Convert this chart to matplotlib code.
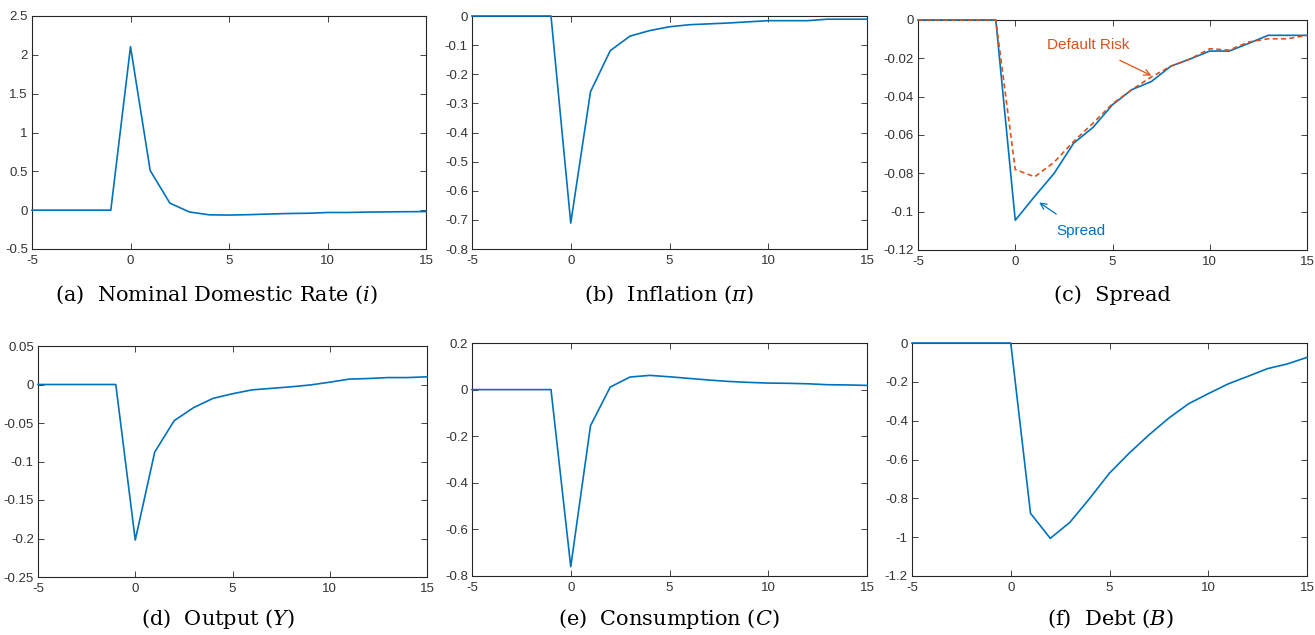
import numpy as np
import matplotlib
matplotlib.use('Agg')
import matplotlib.pyplot as plt
from matplotlib.ticker import FuncFormatter

plt.rcParams['axes.unicode_minus'] = False
plt.rcParams['mathtext.fontset'] = 'dejavuserif'

# horizon
t = list(range(-5, 16))

# impulse responses
nominal_rate = [0, 0, 0, 0, 0, 2.105, 0.51, 0.09, -0.024, -0.06, -0.063, -0.058,
                -0.05, -0.043, -0.04, -0.03, -0.03, -0.025, -0.022, -0.02, -0.018]
inflation = [0, 0, 0, 0, 0, -0.711, -0.26, -0.119, -0.069, -0.05, -0.037, -0.030,
             -0.027, -0.024, -0.020, -0.016, -0.016, -0.016, -0.011, -0.011, -0.011]
spread = [0, 0, 0, 0, 0, -0.1045, -0.092, -0.080, -0.0643, -0.056, -0.0442, -0.0363,
          -0.0321, -0.0241, -0.0203, -0.0162, -0.0162, -0.0122, -0.008, -0.008, -0.008]
default_risk = [0, 0, 0, 0, 0, -0.078, -0.0818, -0.0742, -0.0634, -0.0538, -0.0437,
                -0.0363, -0.0297, -0.0241, -0.0203, -0.015, -0.0157, -0.0115, -0.0098,
                -0.0098, -0.008]
output = [0, 0, 0, 0, 0, -0.202, -0.0878, -0.047, -0.030, -0.018, -0.012, -0.007,
          -0.005, -0.003, -0.0006, 0.003, 0.007, 0.0078, 0.009, 0.009, 0.010]
consumption = [0, 0, 0, 0, 0, -0.76, -0.155, 0.011, 0.054, 0.061, 0.055, 0.048,
               0.041, 0.035, 0.031, 0.028, 0.027, 0.025, 0.021, 0.020, 0.018]
debt = [0, 0, 0, 0, 0, 0, -0.877, -1.006, -0.923, -0.80, -0.67, -0.567, -0.473,
        -0.387, -0.313, -0.261, -0.211, -0.172, -0.132, -0.108, -0.074]

captions = ["(a)  Nominal Domestic Rate ($\\mathit{i}$)", "(b)  Inflation ($\\pi$)",
            "(c)  Spread", "(d)  Output ($\\mathit{Y}$)",
            "(e)  Consumption ($\\mathit{C}$)", "(f)  Debt ($\\mathit{B}$)"]
ylims = [(-0.5, 2.5), (-0.8, 0), (-0.12, 0), (-0.25, 0.05), (-0.8, 0.2), (-1.2, 0)]
yticks = [np.arange(-0.5, 2.51, 0.5), np.arange(-0.8, 0.01, 0.1), np.arange(-0.12, 0.001, 0.02),
          np.arange(-0.25, 0.051, 0.05), np.arange(-0.8, 0.21, 0.2), np.arange(-1.2, 0.01, 0.2)]
series = [nominal_rate, inflation, spread, output, consumption, debt]

blue = '#0072BD'
orange = '#D95319'
dark = '#262626'

W, H = 1315, 635
fig = plt.figure(figsize=(W / 100, H / 100), dpi=100)

# axes boxes in pixels: left, top, right, bottom
boxes = [(32, 16, 426, 249), (472, 16, 867, 249), (918, 20, 1307, 250),
         (38, 346, 427, 577), (472, 343, 867, 576), (912, 343, 1307, 576)]
cap_pos = [(216, 295), (669, 295), (1112, 295), (218, 619), (669, 619), (1110, 619)]


def tick_fmt(v, p):
    if abs(v) < 1e-9:
        return '0'
    return '%g' % round(v, 6)


axes = []
for i, (l, tp, r, b) in enumerate(boxes):
    ax = fig.add_axes([l / W, 1 - b / H, (r - l) / W, (b - tp) / H])
    ax.plot(t, series[i], color=blue, lw=1.2, clip_on=False, zorder=3)
    if i == 2:
        ax.plot(t, default_risk, color=orange, lw=1.2, ls=(0, (3, 2)), clip_on=False, zorder=3)
    ax.set_xlim(-5, 15)
    ax.set_ylim(*ylims[i])
    ax.set_xticks([-5, 0, 5, 10, 15])
    ax.set_yticks(yticks[i])
    ax.yaxis.set_major_formatter(FuncFormatter(tick_fmt))
    ax.tick_params(direction='in', top=True, right=True, length=4, width=0.6,
                   labelsize=9.5, colors=dark, pad=3)
    ax.tick_params(axis='x', pad=4)
    for lab in ax.get_xticklabels() + ax.get_yticklabels():
        lab.set_family('Liberation Sans')
        lab.set_color('#333333')
    for s in ax.spines.values():
        s.set_color(dark)
        s.set_linewidth(0.8)
    fig.text(cap_pos[i][0] / W, 1 - cap_pos[i][1] / H, captions[i], ha='center', va='center',
             fontsize=15, family='DejaVu Serif')
    axes.append(ax)

ax = axes[2]
ax.annotate('Default Risk', xy=(7, -0.029), xytext=(3.76, -0.0131), color=orange,
            fontsize=11, family='Liberation Sans', ha='center', va='center',
            arrowprops=dict(arrowstyle='->', color=orange, lw=0.9, shrinkA=9, shrinkB=0))
ax.annotate('Spread', xy=(1.23, -0.0952), xytext=(3.38, -0.110), color=blue,
            fontsize=11, family='Liberation Sans', ha='center', va='center',
            arrowprops=dict(arrowstyle='->', color=blue, lw=0.9, shrinkA=9, shrinkB=0))

fig.savefig('out.png', dpi=100)
